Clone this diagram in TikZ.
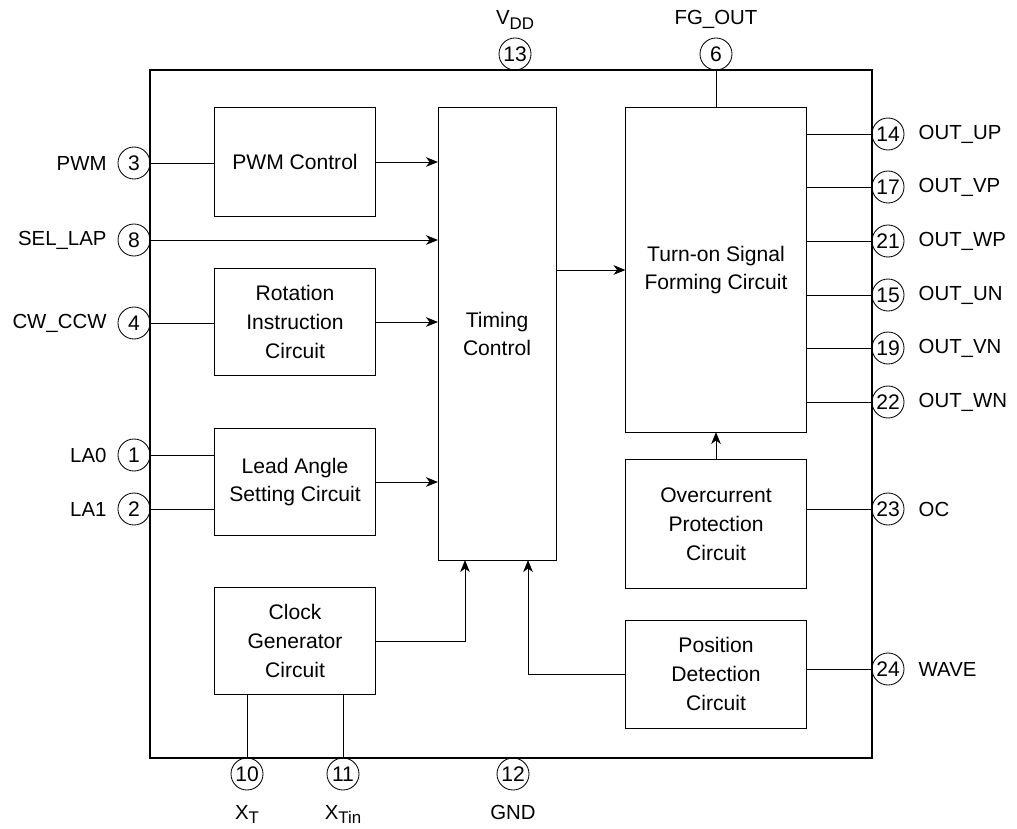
\documentclass[tikz,border=0pt]{standalone}
\usepackage{fontspec}
\setmainfont{Liberation Sans}
\usetikzlibrary{arrows.meta, positioning}
\newcommand{\lowsub}[1]{\raisebox{-0.45ex}{\fontsize{12}{12}\selectfont #1}}

\begin{document}
\begin{tikzpicture}[x=0.025cm, y=-0.025cm,
    every node/.style={font=\fontsize{15}{20.5}\selectfont},
    block/.style={draw, line width=0.7pt, outer sep=0pt, inner sep=0pt, align=center},
    pinc/.style={draw, circle, minimum size=0.8cm, inner sep=0pt, outer sep=0pt, line width=0.6pt},
    pinlbl/.style={inner sep=0pt, font=\fontsize{14.5}{17}\selectfont},
    wire/.style={line width=0.7pt},
    sig/.style={wire, -{Stealth[length=3mm, width=2.4mm, inset=0.9mm]}}]
\useasboundingbox (0,0) rectangle (1017,828);

% chip outline
\node[draw, line width=1.6pt, outer sep=0pt, minimum width=18.05cm, minimum height=17.2cm] (chip) at (511,414) {};

% blocks
\node[block, minimum width=4.025cm, minimum height=2.725cm] (pwmctl) at (295,162) {PWM Control};
\node[block, minimum width=4.025cm, minimum height=2.675cm] (rotation) at (295,322) {Rotation\\Instruction\\Circuit};
\node[block, minimum width=4.025cm, minimum height=2.675cm] (leadangle) at (295,482) {Lead Angle\\Setting Circuit};
\node[block, minimum width=4.025cm, minimum height=2.675cm] (clockgen) at (295,641) {Clock\\Generator\\Circuit};
\node[block, minimum width=2.95cm, minimum height=11.3cm] (timing) at (497,334) {Timing\\Control};
\node[block, minimum width=4.525cm, minimum height=8.1cm] (turnon) at (716,270) {Turn-on Signal\\Forming Circuit};
\node[block, minimum width=4.525cm, minimum height=3.2cm] (overcur) at (716,524) {Overcurrent\\Protection\\Circuit};
\node[block, minimum width=4.525cm, minimum height=2.7cm] (posdet) at (716,674) {Position\\Detection\\Circuit};

% pins, left side
\foreach \n/\y/\lbl in {3/163/PWM, 8/240/SEL\_LAP, 4/323/CW\_CCW, 1/455/LA0, 2/509/LA1} {
    \node[pinc] (p\n) at (134,\y) {\n};
    \node[pinlbl, left=0.28cm of p\n] (l\n) {\lbl};
}
% pins, right side
\foreach \n/\y/\lbl in {14/134/OUT\_UP, 17/187/OUT\_VP, 21/241/OUT\_WP, 15/295/OUT\_UN,
    19/348/OUT\_VN, 22/402/OUT\_WN, 23/509/OC, 24/669/WAVE} {
    \node[pinc] (p\n) at (888,\y) {\n};
    \node[pinlbl, right=0.36cm of p\n] (l\n) {\lbl};
}
% pins, top and bottom
\foreach \n/\x/\lbl in {13/515/V\lowsub{DD}, 6/716/FG\_OUT} {
    \node[pinc] (p\n) at (\x,54) {\n};
    \node[pinlbl, anchor=base] (l\n) at (\x,25) {\lbl};
}
\foreach \n/\x/\lbl in {10/247/X\lowsub{T}, 11/343/X\lowsub{Tin}, 12/513/GND} {
    \node[pinc] (p\n) at (\x,774) {\n};
    \node[pinlbl, anchor=base] (l\n) at (\x,819) {\lbl};
}

% connections
\draw[wire] (p3.east) -- (p3.east -| pwmctl.west);
\draw[sig] (pwmctl.east) -- (pwmctl.east -| timing.west);
\draw[sig] (p8.east) -- (p8.east -| timing.west);
\draw[wire] (p4.east) -- (p4.east -| rotation.west);
\draw[sig] (rotation.east) -- (rotation.east -| timing.west);
\draw[wire] (p1.east) -- (p1.east -| leadangle.west);
\draw[wire] (p2.east) -- (p2.east -| leadangle.west);
\draw[sig] (leadangle.east) -- (leadangle.east -| timing.west);
\draw[sig] (clockgen.east) -| ([xshift=-0.8cm]timing.south);
\draw[sig] (posdet.west) -| ([xshift=0.775cm]timing.south);
\draw[sig] (timing.east |- turnon.west) -- (turnon.west);
\draw[wire] (turnon.north) -- (p6.south);
\foreach \n in {14,17,21,15,19,22}
    \draw[wire] (turnon.east |- p\n) -- (p\n.west);
\draw[sig] (overcur.north) -- (turnon.south);
\draw[wire] (overcur.east |- p23) -- (p23.west);
\draw[wire] (posdet.east |- p24) -- (p24.west);
\draw[wire] (clockgen.south -| p10) -- (p10.north);
\draw[wire] (clockgen.south -| p11) -- (p11.north);
\end{tikzpicture}
\end{document}
